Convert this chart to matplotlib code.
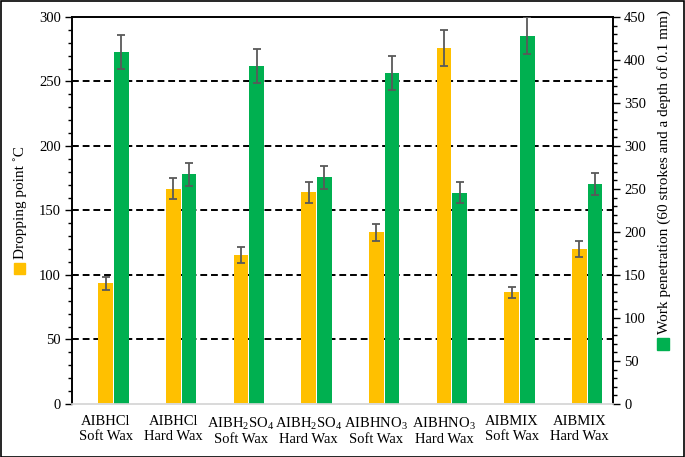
import matplotlib
matplotlib.use('Agg')
import matplotlib.pyplot as plt
from matplotlib.patches import Rectangle
from matplotlib.ticker import MultipleLocator
import numpy as np

plt.rcParams['font.family'] = ['Liberation Serif', 'DejaVu Serif']
plt.rcParams['mathtext.fontset'] = 'custom'
plt.rcParams['mathtext.rm'] = 'Liberation Serif'
plt.rcParams['font.size'] = 10.5

# data
categories = ['AIBHCl\nSoft Wax', 'AIBHCl\nHard Wax',
              r'AIBH$_\mathrm{2}$SO$_\mathrm{4}$' + '\nSoft Wax', r'AIBH$_\mathrm{2}$SO$_\mathrm{4}$' + '\nHard Wax',
              r'AIBHNO$_\mathrm{3}$' + '\nSoft Wax', r'AIBHNO$_\mathrm{3}$' + '\nHard Wax',
              'AIBMIX\nSoft Wax', 'AIBMIX\nHard Wax']
dropping = [93.5, 167, 115.5, 164, 133, 276, 86.5, 120.5]
dropping_err = [4.8, 8.5, 6, 8.3, 6.7, 13.8, 4.5, 6.2]
penetration = [409, 267, 393, 263.5, 385, 245.5, 428, 256]
penetration_err = [20, 13.4, 19.7, 13.4, 19.5, 12.2, 21.5, 12.8]

orange = '#FFC000'
green = '#00B050'

fig = plt.figure(figsize=(6.85, 4.57), dpi=100)
ax = fig.add_axes([0.105, 0.116, 0.79, 0.847])
ax2 = ax.twinx()

x = np.arange(len(categories))
w = 0.215

for v in [50, 100, 150, 200, 250]:
	ax.axhline(v, color='black', lw=1.4, ls=(0, (3.5, 2)), zorder=1)

ax.bar(x, dropping, w, color=orange, zorder=2)
ax.errorbar(x, dropping, yerr=dropping_err, fmt='none', ecolor='#595959',
	elinewidth=1.3, capsize=3, capthick=1.3, zorder=3)

ax2.bar(x + 0.232, penetration, w, color=green, zorder=2)
ax2.errorbar(x + 0.232, penetration, yerr=penetration_err, fmt='none', ecolor='#595959',
	elinewidth=1.3, capsize=3, capthick=1.3, zorder=3)

ax.set_xlim(-0.5, 7.5)
ax.set_ylim(0, 300)
ax2.set_ylim(0, 450)
ax.set_xticks(x)
ax.set_xticklabels(categories, linespacing=1.15)
ax.tick_params(axis='x', length=0, pad=8)

ax.yaxis.set_major_locator(MultipleLocator(50))
ax.yaxis.set_minor_locator(MultipleLocator(10))
ax2.yaxis.set_major_locator(MultipleLocator(50))
ax2.yaxis.set_minor_locator(MultipleLocator(10))
ax.tick_params(axis='y', which='major', direction='out', length=5, width=1, pad=3)
ax.tick_params(axis='y', which='minor', direction='out', length=3, width=1)
ax2.tick_params(axis='y', which='major', direction='out', length=5, width=1, pad=3)
ax2.tick_params(axis='y', which='minor', direction='out', length=3, width=1)

for a in (ax, ax2):
	a.spines['bottom'].set_color('#d9d9d9')
	a.spines['bottom'].set_linewidth(1.2)
	for s in ('left', 'right', 'top'):
		a.spines[s].set_color('black')
		a.spines[s].set_linewidth(1.2)

# axis titles with coloured keys
fig.text(20 / 685, 1 - 202.5 / 457, 'Dropping point ˚C', rotation=90, ha='center', va='center', fontsize=11)
fig.patches.append(Rectangle((14 / 685, 1 - 274 / 457), 11 / 685, 11 / 457,
	transform=fig.transFigure, color=orange, figure=fig))
fig.text(664 / 685, 1 - 171.5 / 457, 'Work penetration (60 strokes and a depth of 0.1 mm)',
	rotation=90, ha='center', va='center', fontsize=11)
fig.patches.append(Rectangle((657 / 685, 1 - 350 / 457), 12 / 685, 12 / 457,
	transform=fig.transFigure, color=green, figure=fig))

# outer frame
fig.patches.append(Rectangle((0.001, 0.001), 0.997, 0.997, transform=fig.transFigure,
	fill=False, edgecolor='black', lw=1.2, figure=fig))

fig.savefig('out.png', dpi=100)
